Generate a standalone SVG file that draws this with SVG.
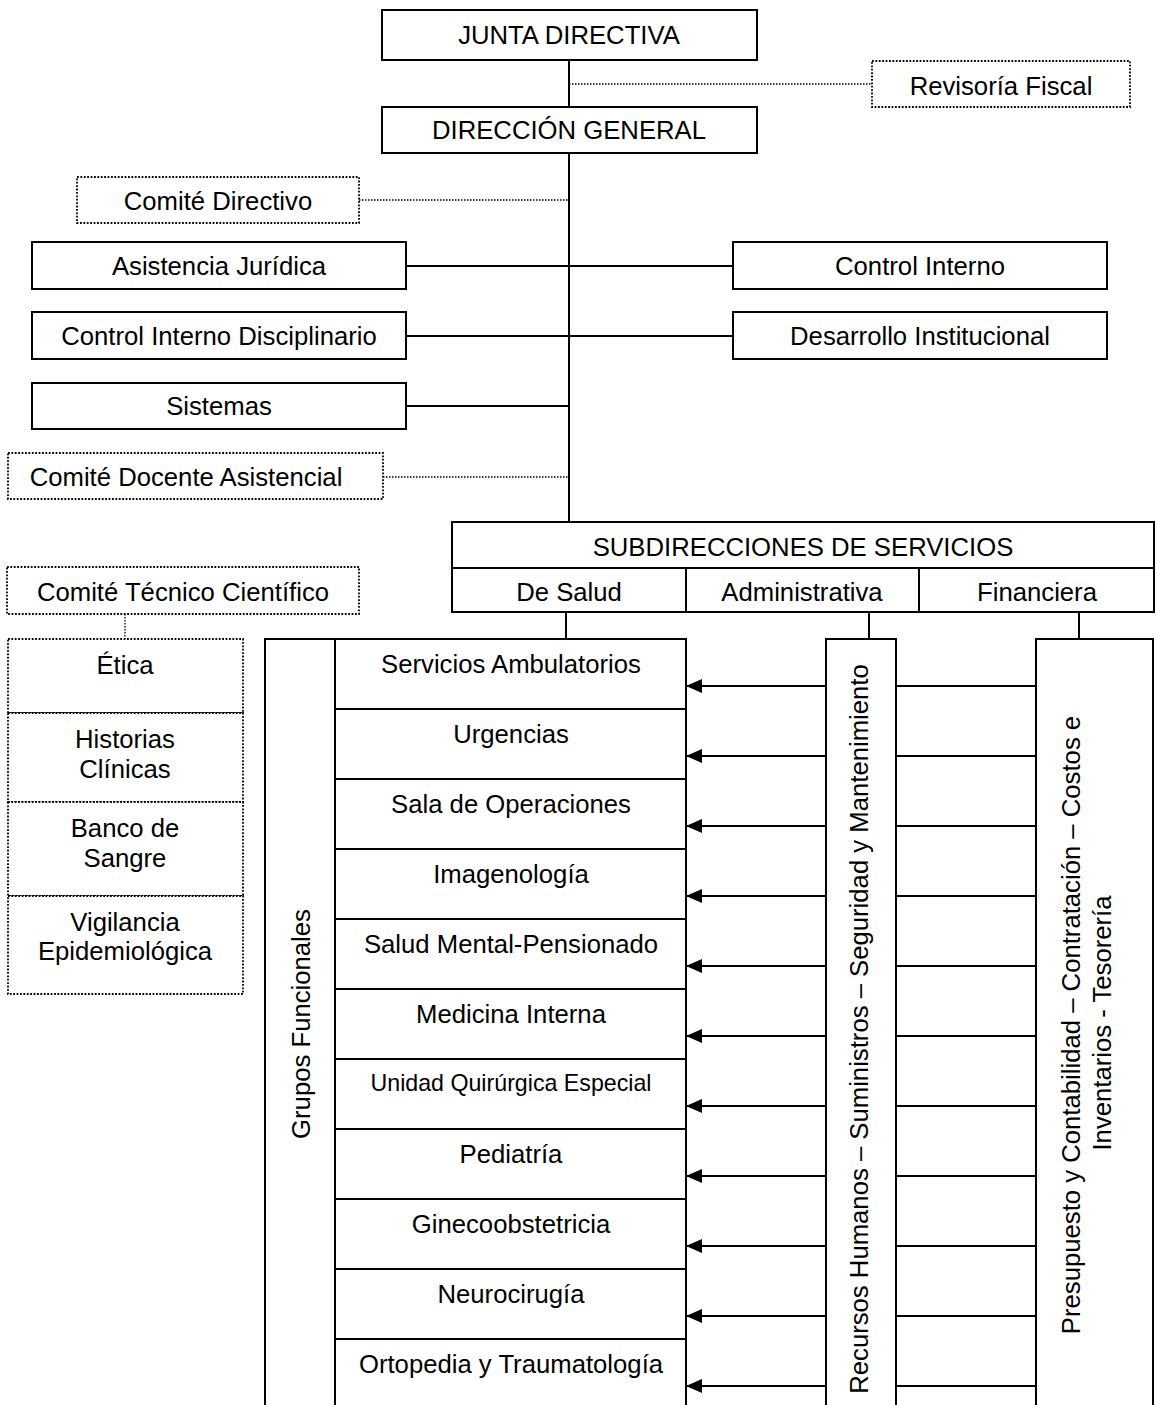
<svg xmlns="http://www.w3.org/2000/svg" width="1156" height="1405" viewBox="0 0 1156 1405">
  <defs>
    <marker id="arrowhead" markerUnits="userSpaceOnUse" markerWidth="16" markerHeight="14" refX="16" refY="7" orient="auto">
      <path d="M0,0 L16,7 L0,14 z" fill="#000"/>
    </marker>
    <style>
      text { font-family: "Liberation Sans", Arial, sans-serif; font-size: 25.7px; fill: #000; text-anchor: middle; }
      .small { font-size: 23.2px; }
      .box { fill: #fff; stroke: #000; stroke-width: 2; }
      .dbox { fill: #fff; stroke: #000; stroke-width: 1.8; stroke-dasharray: 1.8 1.6; }
      .line { fill: none; stroke: #000; stroke-width: 2; }
      .dline { fill: none; stroke: #000; stroke-width: 1.3; stroke-dasharray: 1.5 1.5; }
      .arrow { fill: none; stroke: #000; stroke-width: 2; marker-end: url(#arrowhead); }
    </style>
  </defs>
  <rect width="1156" height="1405" fill="#fff"/>

  <!-- connectors -->
  <g id="connectors">
    <line class="line" x1="569" y1="60" x2="569" y2="107"/>
    <line class="line" x1="569" y1="153" x2="569" y2="522"/>
    <line class="dline" x1="569" y1="84" x2="872" y2="84"/>
    <line class="dline" x1="359" y1="200" x2="569" y2="200"/>
    <line class="line" x1="406" y1="266" x2="733" y2="266"/>
    <line class="line" x1="406" y1="336" x2="733" y2="336"/>
    <line class="line" x1="406" y1="406" x2="569" y2="406"/>
    <line class="dline" x1="383" y1="477" x2="569" y2="477"/>
    <line class="dline" x1="125" y1="614" x2="125" y2="639"/>
    <line class="line" x1="566" y1="612" x2="566" y2="639"/>
    <line class="line" x1="869" y1="612" x2="869" y2="639"/>
    <line class="line" x1="1079" y1="612" x2="1079" y2="639"/>
    <!-- support arrows towards each functional group -->
    <g id="support-arrows">
      <line class="arrow" x1="826" y1="686" x2="686" y2="686"/>
      <line class="arrow" x1="826" y1="756" x2="686" y2="756"/>
      <line class="arrow" x1="826" y1="826" x2="686" y2="826"/>
      <line class="arrow" x1="826" y1="896" x2="686" y2="896"/>
      <line class="arrow" x1="826" y1="966" x2="686" y2="966"/>
      <line class="arrow" x1="826" y1="1036" x2="686" y2="1036"/>
      <line class="arrow" x1="826" y1="1106" x2="686" y2="1106"/>
      <line class="arrow" x1="826" y1="1176" x2="686" y2="1176"/>
      <line class="arrow" x1="826" y1="1246" x2="686" y2="1246"/>
      <line class="arrow" x1="826" y1="1316" x2="686" y2="1316"/>
      <line class="arrow" x1="826" y1="1386" x2="686" y2="1386"/>
    </g>
    <g id="finance-links">
      <line class="line" x1="896" y1="686" x2="1036" y2="686"/>
      <line class="line" x1="896" y1="756" x2="1036" y2="756"/>
      <line class="line" x1="896" y1="826" x2="1036" y2="826"/>
      <line class="line" x1="896" y1="896" x2="1036" y2="896"/>
      <line class="line" x1="896" y1="966" x2="1036" y2="966"/>
      <line class="line" x1="896" y1="1036" x2="1036" y2="1036"/>
      <line class="line" x1="896" y1="1106" x2="1036" y2="1106"/>
      <line class="line" x1="896" y1="1176" x2="1036" y2="1176"/>
      <line class="line" x1="896" y1="1246" x2="1036" y2="1246"/>
      <line class="line" x1="896" y1="1316" x2="1036" y2="1316"/>
      <line class="line" x1="896" y1="1386" x2="1036" y2="1386"/>
    </g>
  </g>

  <!-- top management -->
  <g id="junta-directiva">
    <rect class="box" x="382" y="10" width="375" height="50"/>
    <text x="569" y="44">JUNTA DIRECTIVA</text>
  </g>
  <g id="revisoria-fiscal">
    <rect class="dbox" x="872" y="61" width="258" height="46"/>
    <text x="1001" y="95">Revisoría Fiscal</text>
  </g>
  <g id="direccion-general">
    <rect class="box" x="382" y="107" width="375" height="46"/>
    <text x="569" y="139">DIRECCIÓN GENERAL</text>
  </g>
  <g id="comite-directivo">
    <rect class="dbox" x="77" y="177" width="282" height="46"/>
    <text x="218" y="210">Comité Directivo</text>
  </g>

  <!-- staff offices -->
  <g id="asistencia-juridica">
    <rect class="box" x="32" y="242" width="374" height="47"/>
    <text x="219" y="275">Asistencia Jurídica</text>
  </g>
  <g id="control-interno">
    <rect class="box" x="733" y="242" width="374" height="47"/>
    <text x="920" y="275">Control Interno</text>
  </g>
  <g id="control-interno-disciplinario">
    <rect class="box" x="32" y="312" width="374" height="47"/>
    <text x="219" y="345">Control Interno Disciplinario</text>
  </g>
  <g id="desarrollo-institucional">
    <rect class="box" x="733" y="312" width="374" height="47"/>
    <text x="920" y="345">Desarrollo Institucional</text>
  </g>
  <g id="sistemas">
    <rect class="box" x="32" y="383" width="374" height="46"/>
    <text x="219" y="415">Sistemas</text>
  </g>
  <g id="comite-docente-asistencial">
    <rect class="dbox" x="8" y="453" width="375" height="46"/>
    <text x="186" y="486">Comité Docente Asistencial</text>
  </g>

  <!-- service sub-directorates -->
  <g id="subdirecciones">
    <rect class="box" x="452" y="522" width="702" height="90"/>
    <line class="line" x1="452" y1="568" x2="1154" y2="568"/>
    <line class="line" x1="686" y1="568" x2="686" y2="612"/>
    <line class="line" x1="919" y1="568" x2="919" y2="612"/>
    <text x="803" y="556">SUBDIRECCIONES DE SERVICIOS</text>
    <text x="569" y="601">De Salud</text>
    <text x="802" y="601">Administrativa</text>
    <text x="1037" y="601">Financiera</text>
  </g>

  <!-- technical-scientific committee -->
  <g id="comite-tecnico-cientifico">
    <rect class="dbox" x="7" y="567" width="352" height="47"/>
    <text x="183" y="601">Comité Técnico Científico</text>
  </g>
  <g id="comites-tecnicos">
    <rect class="dbox" x="8" y="639" width="235" height="74"/>
    <text x="125" y="674">Ética</text>
    <rect class="dbox" x="8" y="713" width="235" height="89"/>
    <text x="125" y="748">Historias</text>
    <text x="125" y="778">Clínicas</text>
    <rect class="dbox" x="8" y="802" width="235" height="94"/>
    <text x="125" y="837">Banco de</text>
    <text x="125" y="867">Sangre</text>
    <rect class="dbox" x="8" y="896" width="235" height="98"/>
    <text x="125" y="931">Vigilancia</text>
    <text x="125" y="960">Epidemiológica</text>
  </g>

  <!-- functional groups -->
  <g id="grupos-funcionales">
    <path class="line" d="M265,1406 V639 H686 V1406 M335,639 V1406"/>
    <text transform="translate(310,1024) rotate(-90)">Grupos Funcionales</text>
  </g>
  <g id="servicios">
    <line class="line" x1="335" y1="709" x2="686" y2="709"/>
    <line class="line" x1="335" y1="779" x2="686" y2="779"/>
    <line class="line" x1="335" y1="849" x2="686" y2="849"/>
    <line class="line" x1="335" y1="919" x2="686" y2="919"/>
    <line class="line" x1="335" y1="989" x2="686" y2="989"/>
    <line class="line" x1="335" y1="1059" x2="686" y2="1059"/>
    <line class="line" x1="335" y1="1129" x2="686" y2="1129"/>
    <line class="line" x1="335" y1="1199" x2="686" y2="1199"/>
    <line class="line" x1="335" y1="1269" x2="686" y2="1269"/>
    <line class="line" x1="335" y1="1339" x2="686" y2="1339"/>
    <text x="511" y="673">Servicios Ambulatorios</text>
    <text x="511" y="743">Urgencias</text>
    <text x="511" y="813">Sala de Operaciones</text>
    <text x="511" y="883">Imagenología</text>
    <text x="511" y="953">Salud Mental-Pensionado</text>
    <text x="511" y="1023">Medicina Interna</text>
    <text class="small" x="511" y="1091">Unidad Quirúrgica Especial</text>
    <text x="511" y="1163">Pediatría</text>
    <text x="511" y="1233">Ginecoobstetricia</text>
    <text x="511" y="1303">Neurocirugía</text>
    <text x="511" y="1373">Ortopedia y Traumatología</text>
  </g>

  <!-- administrative support -->
  <g id="apoyo-administrativo">
    <path class="line" d="M826,1406 V639 H896 V1406"/>
    <text transform="translate(868,1029) rotate(-90)">Recursos Humanos – Suministros – Seguridad y Mantenimiento</text>
  </g>

  <!-- financial support -->
  <g id="apoyo-financiero">
    <path class="line" d="M1036,1406 V639 H1153 V1406"/>
    <text transform="translate(1080,1025) rotate(-90)">Presupuesto y Contabilidad – Contratación – Costos e</text>
    <text transform="translate(1111,1023) rotate(-90)">Inventarios - Tesorería</text>
  </g>
</svg>
